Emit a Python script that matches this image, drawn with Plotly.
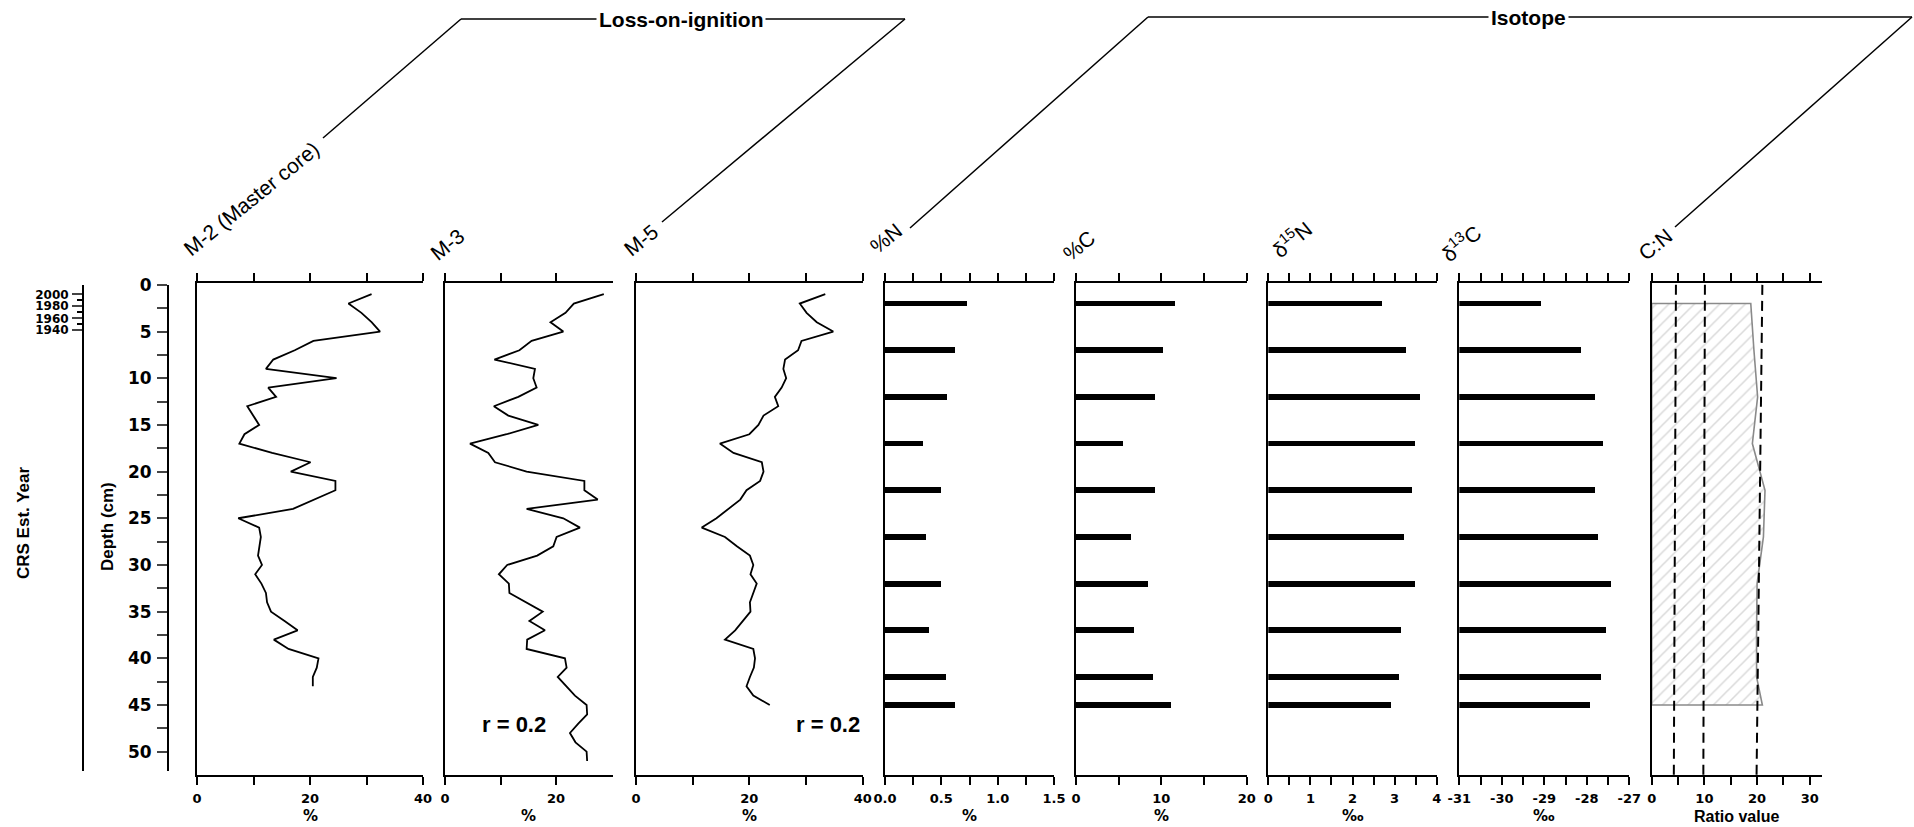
import plotly.graph_objects as go

W, H = 1914, 827

# ---------------- data ----------------
# Loss-on-ignition (%), 1 cm slices
loi_depth_m2 = list(range(1, 44))
loi_m2 = [30.9, 26.8, 29.1, 30.9, 32.4, 20.6, 17.3, 13.5, 12.2, 24.7,
          12.6, 14.0, 8.9, 10.0, 11.0, 8.4, 7.5, 13.3, 20.1, 16.6,
          24.5, 24.5, 20.8, 17.0, 7.3, 11.0, 11.3, 11.0, 10.8, 11.5,
          10.3, 11.4, 12.2, 12.4, 13.1, 15.5, 17.8, 13.6, 16.2, 21.5,
          21.2, 20.5, 20.5]

loi_depth_m3 = list(range(1, 52))
loi_m3 = [28.6, 23.2, 21.7, 19.0, 21.3, 15.6, 13.4, 8.9, 16.2, 15.9,
          16.5, 13.2, 8.8, 11.4, 16.8, 11.1, 4.5, 7.8, 9.0, 14.7,
          25.1, 25.1, 27.5, 14.7, 21.3, 24.3, 20.1, 19.5, 16.6, 11.2,
          9.7, 11.5, 11.6, 14.7, 17.6, 15.2, 18.0, 14.8, 14.7, 21.6,
          21.9, 20.3, 21.9, 23.4, 25.5, 25.6, 24.0, 22.5, 23.5, 25.5,
          25.6]

loi_depth_m5 = list(range(1, 46))
loi_m5 = [33.4, 28.9, 30.1, 31.9, 34.8, 29.2, 28.6, 26.3, 26.0, 26.5,
          25.7, 24.5, 25.1, 22.5, 21.6, 20.0, 14.8, 17.2, 22.2, 22.5,
          21.9, 19.5, 18.4, 16.3, 14.2, 11.6, 15.7, 17.8, 20.1, 20.7,
          20.2, 21.3, 20.7, 20.1, 20.2, 18.9, 17.5, 15.7, 20.7, 21.0,
          20.8, 20.1, 19.5, 20.7, 23.6]

# Elemental / isotope samples
iso_depth = [2, 7, 12, 17, 22, 27, 32, 37, 42, 45]
pct_n = [0.73, 0.62, 0.55, 0.34, 0.50, 0.36, 0.50, 0.39, 0.54, 0.62]
pct_c = [11.6, 10.2, 9.3, 5.5, 9.3, 6.5, 8.4, 6.8, 9.0, 11.1]
d15n = [2.71, 3.28, 3.62, 3.48, 3.42, 3.23, 3.48, 3.17, 3.10, 2.91]
d13c = [-29.08, -28.13, -27.81, -27.61, -27.79, -27.74, -27.43, -27.54, -27.67, -27.92]
cn_ratio = [18.8, 19.4, 20.1, 19.1, 21.5, 21.2, 20.0, 19.9, 19.9, 21.0]

# C:N reference lines (value at top and at base of the column)
cn_ref_top = [4.6, 10.1, 21.0]
cn_ref_bottom = [4.2, 9.8, 19.9]

# CRS chronology: year -> depth (cm)
crs_years = [2000, 1980, 1960, 1940]
crs_depths = [1.0, 2.25, 3.57, 4.82]
crs_minor_depths = [1.6, 2.9, 4.2]

r_text = "r = 0.2"

# ---------------- helpers ----------------
def fx(p):
    return p / W


def fy(p):
    return 1 - p / H


TOP, BOT = 283, 775
DEPTH_RANGE = [52.5, -0.2]
TICKFONT = dict(family="DejaVu Sans", size=13, color="black", weight="bold")

fig = go.Figure()


def note(text, x, y, **kw):
    """Paper-anchored text placed by its centre (pixel coordinates)."""
    kw.setdefault("xanchor", "center")
    kw.setdefault("yanchor", "middle")
    fig.add_annotation(x=fx(x), y=fy(y), xref="paper", yref="paper", text=text,
                       showarrow=False, **kw)


def ticks(start, stop, step, label_every, fmt):
    vals, txt = [], []
    n = int(round((stop - start) / step))
    for i in range(n + 1):
        v = start + i * step
        vals.append(v)
        txt.append(fmt(v) if i % label_every == 0 else "")
    return vals, txt


# panel layout: pixel extent, axis range, tick positions and labels
panels = [
    dict(px=(197, 423), rng=[0, 40], t=ticks(0, 40, 10, 2, lambda v: f"{v:g}"), title="%"),
    dict(px=(445, 612.7), rng=[0, 30.2], t=ticks(0, 20, 10, 2, lambda v: f"{v:g}"), title="%"),
    dict(px=(636, 862.7), rng=[0, 40], t=ticks(0, 40, 10, 2, lambda v: f"{v:g}"), title="%"),
    dict(px=(885, 1054), rng=[0, 1.5], t=ticks(0, 1.5, 0.25, 2, lambda v: f"{v:.1f}"), title="%"),
    dict(px=(1076, 1246.7), rng=[0, 20], t=ticks(0, 20, 5, 2, lambda v: f"{v:g}"), title="%"),
    dict(px=(1268.3, 1436.7), rng=[0, 4], t=ticks(0, 4, 0.5, 2, lambda v: f"{v:g}"), title="‰"),
    dict(px=(1459.3, 1629.3), rng=[-31, -27], t=ticks(-31, -27, 0.5, 2, lambda v: f"{v:g}"), title="‰"),
    dict(px=(1651.7, 1821.7), rng=[0, 32.26], t=ticks(0, 30, 5, 2, lambda v: f"{v:g}"), title="Ratio value"),
]

for i, p in enumerate(panels, start=1):
    sfx = "" if i == 1 else str(i)
    fig.layout[f"xaxis{sfx}"] = dict(
        domain=[fx(p["px"][0]), fx(p["px"][1])], range=p["rng"], anchor=f"y{sfx}",
        showline=True, linewidth=2, linecolor="black", mirror="ticks",
        ticks="outside", ticklen=8, tickwidth=2, tickcolor="black",
        tickvals=p["t"][0], ticktext=p["t"][1], tickfont=TICKFONT,
        ticklabelstandoff=2, showgrid=False, zeroline=False, fixedrange=True,
        automargin=False,
    )
    fig.layout[f"yaxis{sfx}"] = dict(
        domain=[fy(BOT), fy(TOP)], range=DEPTH_RANGE, anchor=f"x{sfx}",
        showline=True, linewidth=2, linecolor="black", ticks="",
        showticklabels=False, showgrid=False, zeroline=False, automargin=False,
    )
    is_ratio = p["title"] == "Ratio value"
    note(p["title"], (p["px"][0] + p["px"][1]) / 2, 816,
         font=dict(family="Liberation Sans" if is_ratio else "DejaVu Sans",
                   size=16 if is_ratio else 15, color="black", weight="bold"))

# ---------------- traces ----------------
line_style = dict(color="black", width=1.8)
fig.add_trace(go.Scatter(x=loi_m2, y=loi_depth_m2, mode="lines", line=line_style, xaxis="x", yaxis="y"))
fig.add_trace(go.Scatter(x=loi_m3, y=loi_depth_m3, mode="lines", line=line_style, xaxis="x2", yaxis="y2"))
fig.add_trace(go.Scatter(x=loi_m5, y=loi_depth_m5, mode="lines", line=line_style, xaxis="x3", yaxis="y3"))

bar_w = 0.62
bar_marker = dict(color="black", line=dict(width=0))
fig.add_trace(go.Bar(x=pct_n, y=iso_depth, orientation="h", width=bar_w,
                     marker=bar_marker, xaxis="x4", yaxis="y4"))
fig.add_trace(go.Bar(x=pct_c, y=iso_depth, orientation="h", width=bar_w,
                     marker=bar_marker, xaxis="x5", yaxis="y5"))
fig.add_trace(go.Bar(x=d15n, y=iso_depth, orientation="h", width=bar_w,
                     marker=bar_marker, xaxis="x6", yaxis="y6"))
d13c_base = panels[6]["rng"][0]
fig.add_trace(go.Bar(x=[v - d13c_base for v in d13c], base=d13c_base, y=iso_depth,
                     orientation="h", width=bar_w, marker=bar_marker,
                     xaxis="x7", yaxis="y7"))

# C:N hatched column
cn_x = [0] + cn_ratio + [0, 0]
cn_y = [iso_depth[0]] + iso_depth + [iso_depth[-1], iso_depth[0]]
fig.add_trace(go.Scatter(
    x=cn_x, y=cn_y, mode="lines", fill="toself", fillcolor="rgba(0,0,0,0)",
    fillpattern=dict(shape="/", fgcolor="#b4b4b4", bgcolor="white", size=9, solidity=0.17),
    line=dict(color="#8a8a8a", width=1.6), xaxis="x8", yaxis="y8"))
for a, b in zip(cn_ref_top, cn_ref_bottom):
    fig.add_trace(go.Scatter(x=[a, b], y=[0, DEPTH_RANGE[0]], mode="lines",
                             line=dict(color="black", width=2, dash="10px,6px"),
                             xaxis="x8", yaxis="y8"))

# ---------------- depth and chronology axes ----------------
depth_vals, depth_txt = ticks(0, 50, 2.5, 2, lambda v: f"{v:g}")
fig.layout["xaxis9"] = dict(domain=[0, 0.01], visible=False, anchor="y9", automargin=False)
fig.layout["yaxis9"] = dict(
    domain=[fy(771), fy(285)], range=[52.07, 0], anchor="free", position=fx(168), side="left",
    showline=True, linewidth=2, linecolor="black", ticks="outside", ticklen=10, tickwidth=2,
    tickvals=depth_vals, ticktext=depth_txt, showgrid=False, zeroline=False,
    ticklabelstandoff=2, automargin=False,
    tickfont=dict(family="DejaVu Sans", size=17, color="black", weight="bold"),
)
fig.add_trace(go.Scatter(x=[None], y=[None], xaxis="x9", yaxis="y9"))

fig.layout["xaxis10"] = dict(domain=[0, 0.01], visible=False, anchor="y10", automargin=False)
fig.layout["yaxis10"] = dict(
    domain=[fy(771), fy(285)], range=[52.07, 0], anchor="free", position=fx(83), side="left",
    showline=True, linewidth=2, linecolor="black", ticks="outside", ticklen=10, tickwidth=2,
    tickvals=crs_depths, ticktext=[str(y) for y in crs_years], showgrid=False, zeroline=False,
    ticklabelstandoff=1, automargin=False,
    tickfont=dict(family="DejaVu Sans", size=12, color="black", weight="bold"),
    minor=dict(tickvals=crs_minor_depths, ticks="outside", ticklen=5, tickwidth=2, tickcolor="black"),
)
fig.add_trace(go.Scatter(x=[None], y=[None], xaxis="x10", yaxis="y10"))

note("Depth (cm)", 107, 527, textangle=-90,
     font=dict(family="Liberation Sans", size=17, color="black", weight="bold"))
note("CRS Est. Year", 23, 523, textangle=-90,
     font=dict(family="Liberation Sans", size=17, color="black", weight="bold"))

# correlation notes
for cx in (514, 827.5):
    note(r_text, cx, 724, font=dict(family="Liberation Sans", size=22, color="black", weight="bold"))

# ---------------- column headers ----------------
headers = [
    ("M-2 (Master core)", 251.5, 198.5),
    ("M-3", 447, 244),
    ("M-5", 640.5, 240.5),
    ("%N", 885.5, 238.5),
    ("%C", 1079, 245.5),
    ("δ<sup>15</sup>N", 1291, 239),
    ("δ<sup>13</sup>C", 1460, 242.5),
    ("C:N", 1655, 244),
]
for txt, cx, cy in headers:
    note(txt, cx, cy, textangle=-39, borderpad=0,
         font=dict(family="Liberation Sans", size=21, color="black"))

# group brackets
brackets = [
    ("Loss-on-ignition", 681, 19, [(323, 138), (461, 19), (905, 19), (662, 222)]),
    ("Isotope", 1528, 17, [(910, 228), (1148, 17), (1912, 17), (1675, 227)]),
]
for txt, tx, ty, pts in brackets:
    for (x0, y0), (x1, y1) in zip(pts[:-1], pts[1:]):
        fig.add_shape(type="line", xref="paper", yref="paper",
                      x0=fx(x0), y0=fy(y0), x1=fx(x1), y1=fy(y1),
                      line=dict(color="black", width=1.5))
    note(txt, tx, ty, bgcolor="white", borderpad=2,
         font=dict(family="Liberation Sans", size=21, color="black", weight="bold"))

fig.update_traces(showlegend=False, hoverinfo="skip")
fig.update_layout(
    width=W, height=H, margin=dict(l=0, r=0, t=0, b=0, pad=0, autoexpand=False),
    paper_bgcolor="white", plot_bgcolor="white", bargap=0, showlegend=False,
)

fig.write_html("out.html",
               post_script="document.body.style.margin='0';document.body.style.overflow='hidden';")
